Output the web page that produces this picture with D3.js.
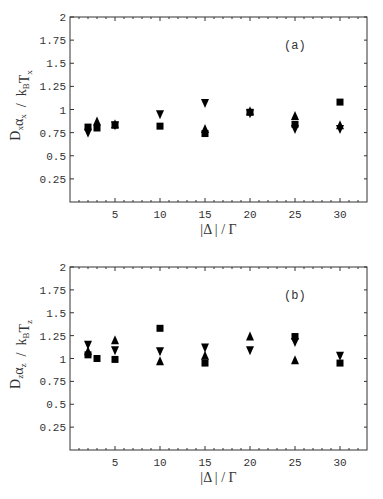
<!DOCTYPE html>
<html>
<head>
<meta charset="utf-8">
<script src="https://cdn.jsdelivr.net/npm/d3@7"></script>
<style>
  body { margin: 0; background: #fff; }
  svg { display: block; }
  .tick-label { font-family: "Liberation Mono", monospace; font-size: 11px; fill: #333; }
  .axis-title { font-family: "Liberation Serif", serif; font-size: 14px; fill: #333; }
</style>
</head>
<body>
<svg id="chart" width="383" height="499"></svg>
<script>
  //Detuning values, shared by both panels
  var detuning = [2, 3, 5, 10, 15, 20, 25, 30];

  //Panel (a): D_x alpha_x / k_B T_x
  var aSquare = [0.81, 0.80, 0.83, 0.82, 0.74, 0.97, 0.84, 1.08];
  var aUp     = [null, 0.87, 0.84, null, 0.79, 0.98, 0.93, 0.83];
  var aDown   = [0.75, null, 0.83, 0.95, 1.07, 0.96, 0.79, 0.79];

  //Panel (b): D_z alpha_z / k_B T_z
  var bSquare = [1.04, 1.00, 0.99, 1.33, 0.95, null, 1.24, 0.95];
  var bUp     = [1.08, null, 1.20, 0.97, 1.03, 1.24, 0.98, null];
  var bDown   = [1.15, null, 1.09, 1.08, 1.12, 1.09, 1.18, 1.03];

  //Tick values
  var xMajor = [5, 10, 15, 20, 25, 30];
  var xMinor = d3.range(1, 33);
  var yTicks = [0.25, 0.5, 0.75, 1, 1.25, 1.5, 1.75, 2];

  var svg = d3.select('#chart');
  var left = 70, right = 367;

  //Tall narrow triangle, pointing up; size is unused
  var tallTriangle = {
    draw: function(ctx){
      ctx.moveTo(0, -5);
      ctx.lineTo(4, 4);
      ctx.lineTo(-4, 4);
      ctx.closePath();
    }
  };

  //Marker generators
  var square = d3.symbol().type(d3.symbolSquare).size(49);
  var tri = d3.symbol().type(tallTriangle);

  /**
   * Draws one framed panel with its three series
   */
  var drawPanel = function(top, bottom, series, tag, sub){
    var x = d3.scaleLinear().domain([0, 33]).range([left, right]);
    var y = d3.scaleLinear().domain([0, 2]).range([bottom, top]);
    var g = svg.append('g');

    //Frame
    g.append('rect')
      .attr('x', left).attr('y', top)
      .attr('width', right - left).attr('height', bottom - top)
      .attr('fill', 'none').attr('stroke', '#333').attr('stroke-width', 1);

    //Bottom and top ticks, pointing inward
    xMinor.forEach(function(v){
      var len = xMajor.indexOf(v) >= 0 ? 4 : 2;
      g.append('line').attr('x1', x(v)).attr('x2', x(v))
        .attr('y1', bottom).attr('y2', bottom - len).attr('stroke', '#333');
      g.append('line').attr('x1', x(v)).attr('x2', x(v))
        .attr('y1', top).attr('y2', top + len).attr('stroke', '#333');
    });
    xMajor.forEach(function(v){
      g.append('text').attr('class', 'tick-label')
        .attr('x', x(v)).attr('y', bottom + 16)
        .attr('text-anchor', 'middle').text(v);
    });

    //Left and right ticks
    yTicks.forEach(function(v){
      g.append('line').attr('x1', left).attr('x2', left + 4)
        .attr('y1', y(v)).attr('y2', y(v)).attr('stroke', '#333');
      g.append('line').attr('x1', right).attr('x2', right - 3)
        .attr('y1', y(v)).attr('y2', y(v)).attr('stroke', '#333');
      g.append('text').attr('class', 'tick-label')
        .attr('x', left - 4).attr('y', y(v) + 4)
        .attr('text-anchor', 'end').text(v);
    });

    //Markers: up triangles, down triangles, then squares on top
    var marks = [
      {vals: series[1], path: tri(), rot: 0},
      {vals: series[2], path: tri(), rot: 180},
      {vals: series[0], path: square(), rot: 0}
    ];
    marks.forEach(function(m){
      detuning.forEach(function(d, i){
        if(m.vals[i] === null) return;
        g.append('path')
          .attr('d', m.path)
          .attr('transform', 'translate(' + x(d) + ',' + y(m.vals[i]) + ') rotate(' + m.rot + ')')
          .attr('fill', '#000');
      });
    });

    //Panel tag
    g.append('text').attr('class', 'tick-label')
      .style('font-size', '12px')
      .attr('x', 284).attr('y', top + 32).text(tag);

    //X title
    g.append('text').attr('class', 'axis-title')
      .attr('x', (left + right) / 2).attr('y', bottom + 32)
      .attr('text-anchor', 'middle')
      .attr('xml:space', 'preserve')
      .text('|\u0394 | / \u0393');

    //Y title, rotated
    var yt = g.append('text').attr('class', 'axis-title')
      .attr('transform', 'translate(20,' + ((top + bottom) / 2 - 4) + ') rotate(-90)')
      .attr('text-anchor', 'middle')
      .attr('xml:space', 'preserve');
    var parts = [['D', false], [sub, true], ['\u03b1', false], [sub, true],
                 ['  /  k', false], ['B', true], ['T', false], [sub, true]];
    parts.forEach(function(p){
      yt.append('tspan')
        .attr('dy', p[1] ? 3 : 0)
        .style('font-size', p[1] ? '9px' : '14px')
        .text(p[0]);
      if(p[1]) yt.append('tspan').attr('dy', -3).text('');
    });
  };

  drawPanel(17, 202, [aSquare, aUp, aDown], '(a)', 'x');
  drawPanel(267, 450, [bSquare, bUp, bDown], '(b)', 'z');
</script>
</body>
</html>
